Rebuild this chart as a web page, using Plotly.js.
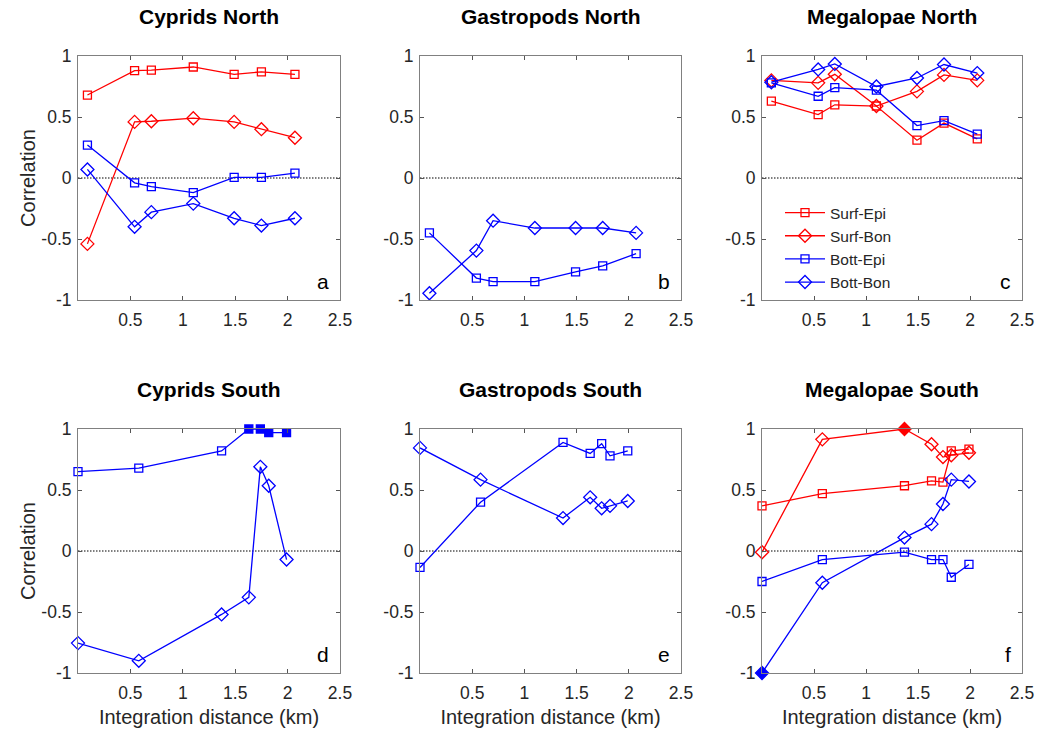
<!DOCTYPE html>
<html><head><meta charset="utf-8">
<script src="https://cdn.plot.ly/plotly-3.0.1.min.js"></script>
<style>html,body{margin:0;padding:0;background:#fff}#chart{width:1040px;height:731px}</style>
</head><body><div id="chart"></div>
<script>
// ---- data ----
const xNorth = [0.09, 0.54, 0.70, 1.10, 1.49, 1.75, 2.07];
const xSouth = [0.00, 0.58, 1.37, 1.63, 1.74, 1.82, 1.99];

const panelTitles = ["Cyprids North", "Gastropods North", "Megalopae North",
                     "Cyprids South", "Gastropods South", "Megalopae South"];
const panelLetters = ["a", "b", "c", "d", "e", "f"];
const seriesNames = ["Surf-Epi", "Surf-Bon", "Bott-Epi", "Bott-Bon"];
const xTickVals = [0.5, 1, 1.5, 2, 2.5];
const xTickText = ["0.5", "1", "1.5", "2", "2.5"];
const yTickVals = [-1, -0.5, 0, 0.5, 1];
const yTickText = ["-1", "-0.5", "0", "0.5", "1"];

// Cyprids North (a)
const aSurfEpi = [0.68, 0.88, 0.885, 0.91, 0.85, 0.87, 0.85];
const aSurfBon = [-0.54, 0.46, 0.465, 0.49, 0.46, 0.40, 0.33];
const aBottEpi = [0.27, -0.04, -0.07, -0.12, 0.005, 0.005, 0.04];
const aBottBon = [0.07, -0.40, -0.28, -0.21, -0.33, -0.39, -0.33];
// Gastropods North (b)
const bBottEpi = [-0.45, -0.82, -0.85, -0.85, -0.77, -0.72, -0.62];
const bBottBon = [-0.945, -0.595, -0.35, -0.41, -0.41, -0.41, -0.45];
// Megalopae North (c)
const cSurfEpi = [0.63, 0.52, 0.60, 0.59, 0.31, 0.45, 0.32];
const cSurfBon = [0.80, 0.78, 0.85, 0.59, 0.71, 0.845, 0.80];
const cBottEpi = [0.78, 0.67, 0.74, 0.72, 0.43, 0.47, 0.36];
const cBottBon = [0.785, 0.89, 0.935, 0.75, 0.82, 0.93, 0.86];
// Cyprids South (d)
const dBottEpi = [0.65, 0.68, 0.82, 1.0, 1.0, 0.97, 0.97];
const dBottEpiFilled = [false, false, false, true, true, true, true];
const dBottBon = [-0.755, -0.90, -0.52, -0.38, 0.69, 0.535, -0.07];
// Gastropods South (e)
const eBottEpi = [-0.135, 0.40, 0.89, 0.80, 0.88, 0.78, 0.82];
const eBottBon = [0.845, 0.585, 0.27, 0.44, 0.35, 0.37, 0.41];
// Megalopae South (f)
const fSurfEpi = [0.37, 0.47, 0.535, 0.575, 0.565, 0.82, 0.835];
const fSurfBon = [-0.01, 0.915, 1.0, 0.875, 0.77, 0.785, 0.805];
const fSurfBonFilled = [false, false, true, false, false, false, false];
const fBottEpi = [-0.25, -0.07, -0.01, -0.07, -0.07, -0.215, -0.11];
const fBottBon = [-1.0, -0.26, 0.11, 0.22, 0.385, 0.585, 0.57];
const fBottBonFilled = [true, false, false, false, false, false, false];

// ---- styling ----
const RED = "#ff0000", BLUE = "#0000ff";
const FONT = "Liberation Sans, Arial, Helvetica, sans-serif";
const TXT = "#262626";
const W = 1040, H = 731;
const colsPx = [[78, 340], [420, 681], [762, 1022]];
const rowsPx = [[56, 300], [429, 673]];

function mk(panel, x, y, name, color, shape, filled, legend) {
  const base = shape === "square" ? "square" : "diamond";
  const sym = x.map((_, i) => (filled && filled[i]) ? base : base + "-open");
  const ax = panel === 1 ? "" : String(panel);
  return {
    x: x, y: y, type: "scatter", mode: "lines+markers", name: name,
    xaxis: "x" + ax, yaxis: "y" + ax, showlegend: !!legend, cliponaxis: false,
    line: {color: color, width: 1.3},
    marker: {symbol: sym, color: color, size: shape === "square" ? 8 : 10,
             line: {color: color, width: 1.3}}
  };
}

const traces = [
  mk(1, xNorth, aSurfEpi, "Surf-Epi", RED, "square"),
  mk(1, xNorth, aSurfBon, "Surf-Bon", RED, "diamond"),
  mk(1, xNorth, aBottEpi, "Bott-Epi", BLUE, "square"),
  mk(1, xNorth, aBottBon, "Bott-Bon", BLUE, "diamond"),
  mk(2, xNorth, bBottEpi, "Bott-Epi", BLUE, "square"),
  mk(2, xNorth, bBottBon, "Bott-Bon", BLUE, "diamond"),
  mk(3, xNorth, cSurfEpi, seriesNames[0], RED, "square", null, true),
  mk(3, xNorth, cSurfBon, seriesNames[1], RED, "diamond", null, true),
  mk(3, xNorth, cBottEpi, seriesNames[2], BLUE, "square", null, true),
  mk(3, xNorth, cBottBon, seriesNames[3], BLUE, "diamond", null, true),
  mk(4, xSouth, dBottEpi, "Bott-Epi", BLUE, "square", dBottEpiFilled),
  mk(4, xSouth, dBottBon, "Bott-Bon", BLUE, "diamond"),
  mk(5, xSouth, eBottEpi, "Bott-Epi", BLUE, "square"),
  mk(5, xSouth, eBottBon, "Bott-Bon", BLUE, "diamond"),
  mk(6, xSouth, fSurfEpi, "Surf-Epi", RED, "square"),
  mk(6, xSouth, fSurfBon, "Surf-Bon", RED, "diamond", fSurfBonFilled),
  mk(6, xSouth, fBottEpi, "Bott-Epi", BLUE, "square"),
  mk(6, xSouth, fBottBon, "Bott-Bon", BLUE, "diamond", fBottBonFilled)
];

const layout = {
  width: W, height: H, margin: {l: 0, r: 0, t: 0, b: 0},
  paper_bgcolor: "#fff", plot_bgcolor: "#fff",
  font: {family: FONT, size: 17, color: TXT},
  showlegend: true,
  legend: {x: 780 / W, y: 1 - 196 / H, xanchor: "left", yanchor: "top",
           bgcolor: "rgba(255,255,255,0)", borderwidth: 0,
           font: {family: FONT, size: 15.5, color: TXT},
           tracegroupgap: 0, itemwidth: 40},
  shapes: [], annotations: []
};

for (let p = 1; p <= 6; p++) {
  const col = (p - 1) % 3, row = Math.floor((p - 1) / 3);
  const ax = p === 1 ? "" : String(p);
  const cx = colsPx[col], ry = rowsPx[row];
  layout["xaxis" + ax] = {
    domain: [cx[0] / W, cx[1] / W], range: [0, 2.5], anchor: "y" + ax,
    tickmode: "array", tickvals: xTickVals, ticktext: xTickText,
    ticks: "inside", ticklen: 4, tickcolor: "#555", tickwidth: 1,
    ticklabelstandoff: 4,
    showline: true, linecolor: "#808080", linewidth: 1, mirror: "ticks",
    showgrid: false, zeroline: false, fixedrange: true,
    tickfont: {family: FONT, size: 17.5, color: TXT},
    title: row === 1 ? {text: "Integration distance (km)", standoff: 7,
                        font: {family: FONT, size: 20, color: TXT}} : {text: ""}
  };
  layout["yaxis" + ax] = {
    domain: [1 - ry[1] / H, 1 - ry[0] / H], range: [-1, 1], anchor: "x" + ax,
    tickmode: "array", tickvals: yTickVals, ticktext: yTickText,
    ticks: "inside", ticklen: 4, tickcolor: "#555", tickwidth: 1,
    ticklabelstandoff: 2,
    showline: true, linecolor: "#808080", linewidth: 1, mirror: "ticks",
    showgrid: false, zeroline: false, fixedrange: true,
    tickfont: {family: FONT, size: 17.5, color: TXT},
    title: col === 0 ? {text: "Correlation", standoff: 0,
                        font: {family: FONT, size: 20, color: TXT}} : {text: ""}
  };
  layout.shapes.push({type: "line", xref: "x" + ax + " domain", yref: "y" + ax,
    x0: 0, x1: 1, y0: 0, y1: 0, line: {color: "#000", width: 1.2, dash: "1.5px,1.5px"}, layer: "below"});
  layout.annotations.push({xref: "x" + ax + " domain", yref: "paper",
    x: 0.5, y: 1 - (ry[0] - 40) / H, xanchor: "center", yanchor: "middle",
    text: "<b>" + panelTitles[p - 1] + "</b>", showarrow: false,
    font: {family: FONT, size: 21, color: "#000"}});
  layout.annotations.push({xref: "x" + ax + " domain", yref: "y" + ax + " domain",
    x: 0.965, y: 0.02, xanchor: "right", yanchor: "bottom",
    text: panelLetters[p - 1], showarrow: false,
    font: {family: FONT, size: 21, color: "#000"}});
}

Plotly.newPlot("chart", traces, layout, {staticPlot: true, displayModeBar: false});
</script></body></html>
